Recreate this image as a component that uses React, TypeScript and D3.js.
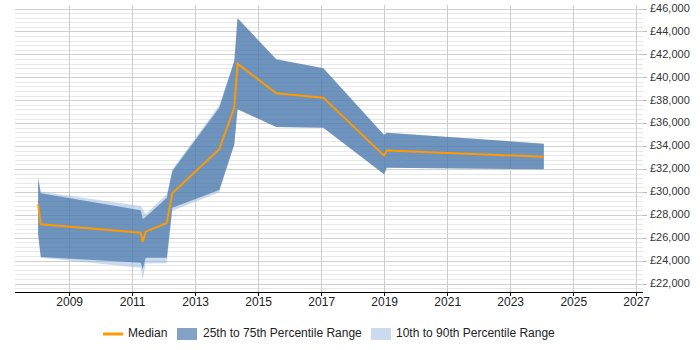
import { useEffect } from "react";
import * as d3 from "d3";

// survey points: date, then percentile salaries in GBP
const dates = [
  "2008-01-01", "2008-02-01", "2011-04-05", "2011-04-28", "2011-06-01",
  "2012-02-01", "2012-04-05", "2013-10-01", "2014-03-25", "2014-05-01",
  "2015-07-25", "2017-01-20", "2018-12-25", "2019-01-25", "2024-01-20",
];
const p90 = [31300, 30050, 28800, 28550, 28100, 29830, 32000, 37600, 41500, 45200, 41600, 40830, 35000, 35200, 34250];
const p75 = [31250, 29920, 28430, 27670, 27850, 29530, 31860, 37390, 41460, 45190, 41610, 40830, 35000, 35200, 34250];
const median = [28980, 27210, 26480, 25670, 26570, 27320, 29920, 33760, 37390, 41230, 38640, 38260, 33200, 33640, 33110];
const p25 = [26360, 24360, 23860, 23280, 24300, 24300, 28660, 30200, 34190, 37250, 35700, 35640, 31570, 32150, 32010];
const p10 = [26300, 24300, 23420, 22410, 23800, 23810, 28400, 30000, 34190, 37250, 35700, 35640, 31570, 32150, 32010];

const yearTicks = [2009, 2011, 2013, 2015, 2017, 2019, 2021, 2023, 2025, 2027];
const salaryTicks = [22000, 24000, 26000, 28000, 30000, 32000, 34000, 36000, 38000, 40000, 42000, 44000, 46000];
const minorStep = 400;

const W = 700, H = 350;
const plot = { left: 15, right: 643, top: 5, bottom: 292 };
const FONT = "'Liberation Sans', Arial, sans-serif";

const ORANGE = "#ff9900";
const DARK = "rgba(48,100,158,0.6)";
const LIGHT = "rgba(150,184,222,0.5)";

export default function App() {
  useEffect(() => {
    document.body.style.margin = "0";
  }, []);

  const parsed = dates.map((d) => d3.timeParse("%Y-%m-%d")(d)!);

  const x = d3
    .scaleTime()
    .domain([new Date(2007, 3, 8), new Date(2027, 2, 15)])
    .range([plot.left, plot.right]);
  const y = d3.scaleLinear().domain([22000, 46000]).range([284, 9]);

  const band = (lo: number[], hi: number[]) =>
    d3
      .area<Date>()
      .x((d) => x(d))
      .y0((_, i) => y(lo[i]))
      .y1((_, i) => y(hi[i]))(parsed) ?? "";

  const medianPath =
    d3
      .line<Date>()
      .x((d) => x(d))
      .y((_, i) => y(median[i]))(parsed) ?? "";

  // minor grid every £400 inside the plot box
  const minor: number[] = [];
  for (let v = 46000; y(v) <= plot.bottom; v -= minorStep) {
    if (y(v) >= plot.top) minor.push(v);
  }

  const legendY = 334;

  return (
    <svg width={W} height={H} style={{ display: "block" }} fontFamily={FONT}>
      <rect width={W} height={H} fill="#fff" />

      {/* grid */}
      {minor.map((v) => (
        <line
          key={"m" + v}
          x1={plot.left}
          x2={plot.right}
          y1={y(v)}
          y2={y(v)}
          stroke={v % 2000 === 0 ? "#cfcfcf" : "#e8e8e8"}
          strokeWidth={1}
          shapeRendering="crispEdges"
        />
      ))}
      {yearTicks.map((yr) => (
        <line
          key={"v" + yr}
          x1={x(new Date(yr, 0, 1))}
          x2={x(new Date(yr, 0, 1))}
          y1={plot.top}
          y2={plot.bottom}
          stroke="#cccccc"
          shapeRendering="crispEdges"
        />
      ))}

      {/* bands and median */}
      <path d={band(p10, p90)} fill={LIGHT} />
      <path d={band(p25, p75)} fill={DARK} />
      <path d={medianPath} fill="none" stroke={ORANGE} strokeWidth={2} strokeLinejoin="miter" />

      {/* x axis */}
      <line x1={plot.left} x2={plot.right} y1={plot.bottom} y2={plot.bottom} stroke="#000" shapeRendering="crispEdges" />
      {yearTicks.map((yr) => {
        const px = x(new Date(yr, 0, 1));
        return (
          <g key={"xt" + yr}>
            <line x1={px} x2={px} y1={plot.bottom} y2={plot.bottom + 4} stroke="#000" shapeRendering="crispEdges" />
            <text x={px} y={plot.bottom + 11} textAnchor="middle" dominantBaseline="middle" fontSize={12} fill="#222">
              {yr}
            </text>
          </g>
        );
      })}

      {/* y axis on the right */}
      {salaryTicks.map((v) => (
        <g key={"yt" + v}>
          <line x1={plot.right} x2={plot.right + 4} y1={y(v)} y2={y(v)} stroke="#bbb" shapeRendering="crispEdges" />
          <text x={plot.right + 7} y={y(v)} dominantBaseline="middle" fontSize={11} fill="#333">
            {"£" + d3.format(",")(v)}
          </text>
        </g>
      ))}

      {/* legend */}
      <line x1={103} x2={123} y1={legendY} y2={legendY} stroke={ORANGE} strokeWidth={3} />
      <text x={128} y={legendY} dominantBaseline="middle" fontSize={12} fill="#222">Median</text>
      <rect x={177} y={legendY - 6} width={20} height={12} fill="rgba(48,100,158,0.6)" />
      <text x={203} y={legendY} dominantBaseline="middle" fontSize={12} fill="#222">25th to 75th Percentile Range</text>
      <rect x={371} y={legendY - 6} width={20} height={12} fill={LIGHT} />
      <text x={396} y={legendY} dominantBaseline="middle" fontSize={12} fill="#222">10th to 90th Percentile Range</text>
    </svg>
  );
}
